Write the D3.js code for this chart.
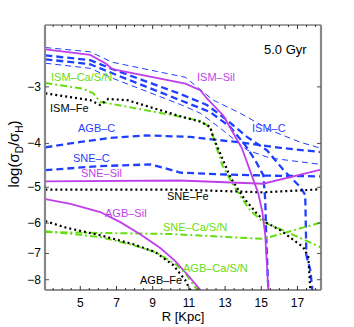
<!DOCTYPE html>
<html>
<head>
<meta charset="utf-8">
<script src="https://cdn.jsdelivr.net/npm/d3@7"></script>
<style>
  body { margin: 0; background: #fff; }
  text { font-family: "Liberation Sans", Arial, sans-serif; }
</style>
</head>
<body>
<div id="chart-area"></div>
<script>
// R [Kpc], log(sigma_D/sigma_H)
var ismSil   = [[3.07,-2.48],[5.55,-2.55],[6.38,-2.66],[6.77,-2.74],[10.8,-2.95],[11.63,-3.05],[12.02,-3.19],[12.9,-3.47],[13.93,-4.1],[14.83,-5.15],[15.06,-5.67],[15.22,-6.38],[15.39,-8.43],[15.42,-8.7]];
var sneSil   = [[3.07,-4.85],[10.52,-4.83],[15.1,-4.91],[18.3,-4.57]];
var agbSil   = [[3.07,-5.31],[4.45,-5.44],[6.1,-5.67],[7.21,-5.97],[8.31,-6.35],[9.42,-6.81],[10.25,-7.28],[11.08,-7.93],[11.63,-8.43],[11.75,-8.7]];

var ismCa    = [[3.07,-2.94],[5.17,-3.03],[5.72,-3.1],[6.1,-3.24],[6.55,-3.26],[10.69,-3.5],[11.63,-3.57],[12.18,-3.68],[12.4,-3.94],[12.85,-4.47],[13.29,-4.82],[13.84,-5.23],[14.39,-5.62],[15.11,-5.97],[16.44,-6.28],[18.3,-6.79]];
var sneCa    = [[3.07,-6.28],[9.97,-6.34],[15.11,-6.5],[18.3,-5.98]];
var agbCa    = [[3.07,-6.25],[6.1,-6.44],[7.93,-6.71],[9.14,-6.95],[10.25,-7.39],[10.8,-7.73],[11.46,-8.43],[11.55,-8.7]];

var ismFe    = [[3.07,-3.1],[5.55,-3.21],[6.1,-3.29],[6.55,-3.19],[7.6,-3.21],[10.69,-3.5],[11.63,-3.58],[12.18,-3.68],[12.35,-3.88],[13.29,-4.75],[14.0,-5.26],[14.78,-5.73],[15.33,-6.0],[16.05,-6.22],[17.32,-6.78],[17.6,-7.13],[17.71,-8.43],[17.72,-8.7]];
var sneFe    = [[3.07,-5.06],[10.52,-5.06],[15.11,-5.13],[18.3,-5.05]];
var agbFe    = [[3.07,-5.94],[4.28,-6.15],[6.1,-6.38],[7.93,-6.68],[9.14,-6.95],[10.14,-7.43],[10.8,-8.02],[11.08,-8.43],[11.12,-8.7]];

var agbC     = [[3.07,-4.08],[5,-3.97],[6.66,-3.89],[8.6,-3.84],[11.08,-3.87],[13.84,-3.98],[16.05,-4.09],[18.3,-4.18]];
var sneC     = [[3.07,-4.58],[6.1,-4.49],[8.87,-4.45],[9.7,-4.54],[10.52,-4.64],[12.73,-4.68],[15.11,-4.71],[18.3,-4.73]];
var ismC1    = [[3.07,-2.555],[5.55,-2.62],[6.66,-2.73],[10.52,-3.11],[12.0,-3.29],[13.1,-3.55],[14.21,-3.87],[15.31,-4.14],[16.23,-4.58],[17.15,-4.99],[17.43,-5.2],[17.49,-7.06],[17.71,-7.62],[17.82,-8.43],[17.83,-8.7]];
var ismC2    = [[3.07,-2.607],[5.55,-2.674],[6.77,-2.8],[10.52,-3.21],[12.18,-3.41],[13.29,-3.68],[14.12,-4.04],[14.67,-4.36],[15.11,-4.7],[15.22,-5.34],[15.28,-6.54],[15.39,-8.43],[15.4,-8.7]];
var ismC3    = [[3.07,-2.456],[5.55,-2.51],[6.77,-2.647],[10.8,-2.857],[12.35,-3.21],[13.84,-3.43],[15.5,-3.74],[17.15,-3.975],[18.3,-4.1]];
var ismC4    = [[3.07,-2.66],[5.55,-2.73],[6.77,-2.87],[10.52,-3.28],[11.63,-3.43],[12.73,-3.7],[14.23,-4.14],[15.5,-4.31],[18.3,-4.45]];

var xTicks = [5, 7, 9, 11, 13, 15, 17];
var yTicks = [-3, -4, -5, -6, -7, -8];

var magenta = "#bf3fea", blue = "#1f3fff", green = "#66dd11", black = "#000";

var margin = { left:45, right:33, top:25, bottom:37 },
    width = 354 - margin.left - margin.right,
    height = 327 - margin.top - margin.bottom;

var svg = d3.select("#chart-area")
    .append("svg")
    .attr("width", 354)
    .attr("height", 327);
var g = svg.append("g")
    .attr("transform", "translate(" + margin.left + "," + margin.top + ")");

var x = d3.scaleLinear().domain([3.05, 18.3]).range([0, width]);
// axis is logarithmic in the magnitude of the (negative) value
var yLog = d3.scaleLog().domain([2.19, 8.43]).range([0, height]);
var y = function(v){ return yLog(-v); };

g.append("clipPath").attr("id", "clip")
  .append("rect").attr("width", width).attr("height", height);

var line = d3.line()
    .x(function(d){ return x(d[0]); })
    .y(function(d){ return y(d[1]); });

var series = [
  { d: agbC,  c: blue,  w: 2.3, dash: "7,4" },
  { d: sneC,  c: blue,  w: 2.3, dash: "7,4" },
  { d: ismC3, c: blue,  w: 1,   dash: "6,4" },
  { d: ismC4, c: blue,  w: 1,   dash: "6,4" },
  { d: ismC1, c: blue,  w: 2.3, dash: "7,4" },
  { d: ismC2, c: blue,  w: 2.3, dash: "7,4" },
  { d: sneCa, c: green, w: 2,   dash: "7,3,2,3" },
  { d: agbCa, c: green, w: 2,   dash: "7,3,2,3" },
  { d: ismCa, c: green, w: 2,   dash: "7,3,2,3" },
  { d: ismFe, c: black, w: 2.2, dash: "2,3" },
  { d: sneFe, c: black, w: 2.2, dash: "2,3" },
  { d: agbFe, c: black, w: 2.2, dash: "2,3" },
  { d: ismSil, c: magenta, w: 1.8, dash: null },
  { d: sneSil, c: magenta, w: 1.8, dash: null },
  { d: agbSil, c: magenta, w: 1.8, dash: null }
];

g.append("g").attr("clip-path", "url(#clip)")
  .selectAll("path")
  .data(series)
  .enter()
  .append("path")
    .attr("d", function(s){ return line(s.d); })
    .attr("fill", "none")
    .attr("stroke", function(s){ return s.c; })
    .attr("stroke-width", function(s){ return s.w; })
    .attr("stroke-dasharray", function(s){ return s.dash; });

// frame: thin top/bottom, thick grey sides
g.append("line").attr("x1", 0).attr("x2", width).attr("y1", 0).attr("y2", 0)
  .attr("stroke", "#444").attr("stroke-width", 1);
g.append("line").attr("x1", 0).attr("x2", width).attr("y1", height).attr("y2", height)
  .attr("stroke", "#222").attr("stroke-width", 1);
g.append("line").attr("x1", 0).attr("x2", 0).attr("y1", 0).attr("y2", height)
  .attr("stroke", "#888").attr("stroke-width", 2.2);
g.append("line").attr("x1", width).attr("x2", width).attr("y1", 0).attr("y2", height)
  .attr("stroke", "#888").attr("stroke-width", 2.2);

// ticks (inward)
var minor = d3.range(3.5, 18.3, 0.5).filter(function(v){ return xTicks.indexOf(v) < 0; });
[0, height].forEach(function(yy){
  var dir = yy === 0 ? 1 : -1;
  g.selectAll(null).data(xTicks).enter().append("line")
    .attr("x1", x).attr("x2", x)
    .attr("y1", yy).attr("y2", yy + dir * 4)
    .attr("stroke", "#333");
  g.selectAll(null).data(minor).enter().append("line")
    .attr("x1", x).attr("x2", x)
    .attr("y1", yy).attr("y2", yy + dir * 2)
    .attr("stroke", "#333");
});
[0, width].forEach(function(xx){
  var dir = xx === 0 ? 1 : -1;
  g.selectAll(null).data(yTicks).enter().append("line")
    .attr("x1", xx).attr("x2", xx + dir * 4)
    .attr("y1", y).attr("y2", y)
    .attr("stroke", "#555");
});

// tick labels
g.selectAll(null).data(xTicks).enter().append("text")
  .attr("x", x).attr("y", height + 17)
  .attr("text-anchor", "middle")
  .attr("font-size", "12px")
  .text(function(d){ return d; });
g.selectAll(null).data(yTicks).enter().append("text")
  .attr("x", -4).attr("y", function(d){ return y(d) + 4; })
  .attr("text-anchor", "end")
  .attr("font-size", "12px")
  .text(function(d){ return "\u2212" + (-d); });

// axis titles
g.append("text")
  .attr("x", width / 2).attr("y", height + 31)
  .attr("text-anchor", "middle")
  .attr("font-size", "13px")
  .text("R [Kpc]");

var yl = svg.append("text")
  .attr("transform", "translate(19,154) rotate(-90)")
  .attr("text-anchor", "middle")
  .attr("font-size", "15px");
yl.append("tspan").text("log(\u03c3");
yl.append("tspan").attr("dy", 4).attr("font-size", "10px").text("D");
yl.append("tspan").attr("dy", -4).text("/\u03c3");
yl.append("tspan").attr("dy", 4).attr("font-size", "10px").text("H");
yl.append("tspan").attr("dy", -4).text(")");

// curve labels
var labels = [
  { t: "5.0 Gyr",     x: 264, y: 54,  c: black,   s: 13 },
  { t: "ISM\u2013Sil",     x: 197, y: 81,  c: magenta, s: 11 },
  { t: "ISM\u2013C",       x: 252, y: 132, c: blue,    s: 11 },
  { t: "ISM\u2013Ca/S/N",  x: 51,  y: 81,  c: green,   s: 11 },
  { t: "ISM\u2013Fe",      x: 50,  y: 112, c: black,   s: 11 },
  { t: "AGB\u2013C",       x: 78,  y: 132, c: blue,    s: 11 },
  { t: "SNE\u2013C",       x: 73,  y: 162, c: blue,    s: 11 },
  { t: "SNE\u2013Sil",     x: 81,  y: 177, c: magenta, s: 11 },
  { t: "SNE\u2013Fe",      x: 167, y: 200, c: black,   s: 11 },
  { t: "AGB\u2013Sil",     x: 105, y: 217, c: magenta, s: 11 },
  { t: "SNE\u2013Ca/S/N",  x: 163, y: 231, c: green,   s: 11 },
  { t: "AGB\u2013Ca/S/N",  x: 183, y: 272, c: green,   s: 11 },
  { t: "AGB\u2013Fe",      x: 140, y: 284, c: black,   s: 11 }
];
svg.selectAll(".lbl").data(labels).enter().append("text")
  .attr("class", "lbl")
  .attr("x", function(d){ return d.x; })
  .attr("y", function(d){ return d.y; })
  .attr("fill", function(d){ return d.c; })
  .attr("font-size", function(d){ return d.s + "px"; })
  .text(function(d){ return d.t; });
</script>
</body>
</html>
